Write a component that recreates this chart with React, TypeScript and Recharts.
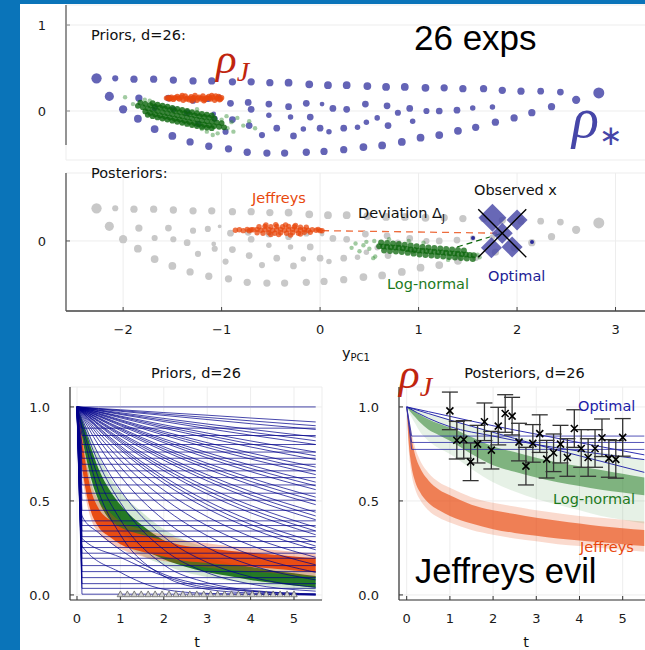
import React from 'react';
import {
  ScatterChart, ComposedChart, Scatter, Line, Area, XAxis, YAxis, ZAxis,
  CartesianGrid, ReferenceLine, ErrorBar,
} from 'recharts';

const SANS = '"DejaVu Sans", Verdana, sans-serif';
const ARIAL = '"Liberation Sans", Arial, sans-serif';
const SERIF = '"Liberation Serif", "DejaVu Serif", serif';

const BLUE_BG = '#0a74b9';
const DOT_BLUE = '#6464b6';
const GRAY = '#c8c8c8';
const ORANGE = '#e8470c';
const GREEN = '#0b650b';
const NAVY = '#00008b';
const RED = '#c0250e';

// ---------- top panels (PCA space) ----------
const X_TICKS = [-2, -1, 0, 1, 2, 3];

// rho* prior samples: [yPC1, yPC2, weight]
const rhoStarStrandA: number[][] = [
  [-2.27, 0.38, 13], [-2.08, 0.38, 4], [-1.89, 0.37, 6], [-1.69, 0.37, 6], [-1.49, 0.36, 6],
  [-1.29, 0.35, 6], [-1.10, 0.35, 6], [-0.89, 0.34, 6], [-0.70, 0.34, 6], [-0.51, 0.33, 6],
  [-0.32, 0.33, 7], [-0.11, 0.31, 7], [0.08, 0.30, 7], [0.27, 0.30, 7], [0.48, 0.29, 7],
  [0.67, 0.28, 7], [0.86, 0.28, 7], [1.07, 0.27, 7], [1.26, 0.27, 6], [1.45, 0.26, 6],
  [1.66, 0.26, 6], [1.85, 0.24, 6], [2.04, 0.23, 6], [2.24, 0.23, 5], [2.44, 0.22, 5],
  [2.83, 0.21, 15],
];
const rhoStarStrandB: number[][] = [
  [-2.14, 0.17, 10], [-2.0, 0.02, 8], [-1.85, -0.09, 7], [-1.68, -0.21, 7], [-1.50, -0.29, 7],
  [-1.32, -0.36, 6], [-1.13, -0.41, 6], [-0.93, -0.44, 6], [-0.74, -0.48, 6], [-0.54, -0.49, 6],
  [-0.36, -0.49, 6], [-0.14, -0.48, 6], [0.04, -0.47, 6], [0.24, -0.45, 6], [0.44, -0.42, 7],
  [0.63, -0.40, 7], [0.83, -0.36, 7], [1.02, -0.31, 7], [1.21, -0.28, 7], [1.40, -0.23, 7],
  [1.58, -0.19, 6], [1.78, -0.13, 6], [1.97, -0.08, 6], [2.15, -0.02, 6], [2.35, 0.05, 6],
  [2.60, 0.13, 8],
];
const rhoStarInner: number[][] = [
  [-1.84, 0.15, 6], [-1.54, 0.15, 5], [-1.68, 0.035, 4], [-1.49, 0.02, 4], [-1.29, 0.12, 4],
  [-1.14, 0.14, 4], [-1.02, 0.17, 1], [-1.35, -0.02, 5], [-1.08, -0.035, 2], [-1.07, -0.09, 4],
  [-1.24, -0.15, 4], [-0.89, -0.10, 5], [-0.96, -0.24, 4], [-0.72, -0.17, 5], [-0.91, 0.09, 5],
  [-0.73, 0.10, 5], [-0.70, 0.02, 5], [-0.52, 0.08, 5], [-0.59, -0.28, 4], [-0.44, -0.20, 5],
  [-0.52, -0.05, 3], [-0.32, 0.05, 5], [-0.30, -0.07, 3], [-0.14, 0.09, 5], [-0.10, -0.07, 5],
  [0.02, 0.08, 2], [0.13, 0.03, 5], [0.27, 0.02, 5], [0.46, 0.08, 5], [0.68, 0.06, 5],
  [0.79, -0.02, 4], [0.91, 0.03, 5], [1.08, 0.0, 4], [1.21, 0.0, 5], [1.39, 0.01, 5],
  [1.55, 0.035, 3], [1.75, 0.047, 3], [-0.27, -0.29, 5], [-0.17, -0.21, 3], [0.0, -0.20, 5],
  [0.09, -0.24, 3], [0.24, -0.20, 5], [0.38, -0.19, 3], [0.47, -0.13, 3], [0.58, -0.08, 3],
  [0.69, -0.17, 5], [0.94, -0.12, 3],
];

// Jeffreys prior samples
const priorJeffreysCloud: number[][] = [
  [-1.56, 0.150], [-1.54, 0.155], [-1.53, 0.140], [-1.51, 0.160], [-1.49, 0.135], [-1.47, 0.155],
  [-1.45, 0.170], [-1.43, 0.140], [-1.41, 0.160], [-1.39, 0.125], [-1.37, 0.175], [-1.35, 0.150],
  [-1.33, 0.130], [-1.31, 0.165], [-1.29, 0.145], [-1.27, 0.180], [-1.25, 0.125], [-1.23, 0.160],
  [-1.21, 0.140], [-1.19, 0.175], [-1.17, 0.130], [-1.15, 0.155], [-1.13, 0.170], [-1.11, 0.140],
  [-1.09, 0.160], [-1.07, 0.125], [-1.05, 0.150], [-1.03, 0.170], [-1.01, 0.140], [-1.00, 0.155],
  [-1.52, 0.145], [-1.44, 0.150], [-1.36, 0.140],
  [-1.28, 0.155], [-1.20, 0.150], [-1.12, 0.150], [-1.04, 0.145], [-1.40, 0.180], [-1.30, 0.120],
  [-1.18, 0.120], [-1.10, 0.180], [-1.24, 0.150], [-1.16, 0.145], [-1.32, 0.150], [-1.48, 0.150],
  [-1.02, 0.130], [-1.06, 0.175],
];
// log-normal prior samples
const priorLogNormalCloud: number[][] = [
  [-1.85, 0.06], [-1.80, 0.045], [-1.75, 0.03], [-1.70, 0.015], [-1.65, 0.0], [-1.60, -0.013],
  [-1.55, -0.025], [-1.50, -0.038], [-1.45, -0.05], [-1.40, -0.063], [-1.35, -0.075], [-1.30, -0.088],
  [-1.25, -0.10], [-1.20, -0.11], [-1.15, -0.118], [-1.10, -0.126], [-1.05, -0.134], [-1.00, -0.14],
  [-1.825, 0.098], [-1.775, 0.083], [-1.725, 0.068], [-1.675, 0.052], [-1.625, 0.039], [-1.575, 0.026],
  [-1.525, 0.014], [-1.475, 0.0], [-1.425, -0.012], [-1.375, -0.024], [-1.325, -0.037], [-1.275, -0.05],
  [-1.225, -0.06], [-1.175, -0.07], [-1.125, -0.077], [-1.075, -0.085],
  [-1.775, -0.005], [-1.725, -0.022], [-1.675, -0.038], [-1.625, -0.052], [-1.575, -0.064], [-1.525, -0.077],
  [-1.475, -0.09], [-1.425, -0.10], [-1.375, -0.114], [-1.325, -0.127], [-1.275, -0.14], [-1.225, -0.15],
  [-1.175, -0.16], [-1.125, -0.168], [-1.075, -0.175], [-1.025, -0.183], [-0.975, -0.19],
  [-1.70, 0.09], [-1.65, 0.075], [-1.60, 0.062], [-1.55, 0.05], [-1.50, 0.037], [-1.45, 0.025],
  [-1.40, 0.012], [-1.35, 0.0], [-1.30, -0.013], [-1.25, -0.025], [-1.20, -0.035], [-1.15, -0.043],
  [-1.10, -0.051],
  [-1.75, -0.045], [-1.70, -0.06], [-1.65, -0.075], [-1.60, -0.088], [-1.55, -0.10], [-1.50, -0.113],
  [-1.45, -0.125], [-1.40, -0.138], [-1.35, -0.15], [-1.30, -0.163], [-1.25, -0.175], [-1.20, -0.185],
  [-1.15, -0.193], [-1.10, -0.20],
];
const priorLogNormalOutliers: number[][] = [
  [-1.98, 0.16], [-1.90, 0.08], [-1.78, 0.13], [-1.73, 0.12], [-1.25, 0.02], [-1.0, -0.10],
  [-0.84, -0.08], [-0.78, -0.17], [-0.66, -0.20], [-0.94, -0.20], [-1.15, -0.24], [-1.09, -0.28],
  [-1.04, -0.26], [-0.90, -0.13], [-0.95, -0.06], [-0.72, -0.12], [-1.20, -0.21], [-0.88, -0.24],
];

// posterior samples
const postJeffreysCloud: number[][] = [
  [-0.86, 0.125], [-0.82, 0.13], [-0.78, 0.12], [-0.74, 0.135], [-0.72, 0.118], [-0.70, 0.13],
  [-0.68, 0.13], [-0.64, 0.135], [-0.60, 0.125], [-0.56, 0.13], [-0.52, 0.135], [-0.48, 0.125],
  [-0.44, 0.13], [-0.40, 0.135], [-0.36, 0.125], [-0.32, 0.13], [-0.28, 0.135], [-0.24, 0.125],
  [-0.20, 0.13], [-0.16, 0.13], [-0.12, 0.125], [-0.08, 0.13],
  [-0.62, 0.165], [-0.56, 0.17], [-0.50, 0.165], [-0.44, 0.17], [-0.38, 0.165], [-0.32, 0.17],
  [-0.26, 0.165], [-0.20, 0.16], [-0.14, 0.16],
  [-0.64, 0.095], [-0.58, 0.09], [-0.52, 0.095], [-0.46, 0.09], [-0.40, 0.095], [-0.34, 0.09],
  [-0.28, 0.095], [-0.22, 0.09], [-0.16, 0.1], [-0.10, 0.1],
  [-0.04, 0.125], [0.0, 0.12], [-0.02, 0.135], [0.02, 0.118],
  [-0.45, 0.19], [-0.35, 0.185], [-0.30, 0.07], [-0.42, 0.075], [-0.55, 0.185], [-0.25, 0.18],
  [-0.50, 0.075], [-0.20, 0.08],
];
const postLogNormalCloud: number[][] = [
  [0.60, -0.06], [0.64, -0.064], [0.68, -0.068], [0.72, -0.072], [0.76, -0.076], [0.80, -0.08],
  [0.84, -0.086], [0.88, -0.092], [0.92, -0.098], [0.96, -0.104], [1.00, -0.11], [1.04, -0.114],
  [1.08, -0.118], [1.12, -0.122], [1.16, -0.126], [1.20, -0.13], [1.24, -0.134], [1.28, -0.138],
  [1.32, -0.142], [1.36, -0.146], [1.40, -0.15], [1.44, -0.154], [1.48, -0.158], [1.52, -0.162],
  [1.56, -0.166],
  [0.62, -0.017], [0.68, -0.023], [0.74, -0.029], [0.80, -0.035], [0.86, -0.044], [0.92, -0.053],
  [0.98, -0.062], [1.04, -0.069], [1.10, -0.075], [1.16, -0.081], [1.22, -0.087], [1.28, -0.093],
  [1.34, -0.099], [1.40, -0.105], [1.46, -0.111],
  [0.65, -0.11], [0.71, -0.116], [0.77, -0.122], [0.83, -0.129], [0.89, -0.138], [0.95, -0.147],
  [1.01, -0.156], [1.07, -0.162], [1.13, -0.168], [1.19, -0.174], [1.25, -0.18], [1.31, -0.186],
  [1.37, -0.192], [1.43, -0.198], [1.49, -0.204], [1.55, -0.21],
];
const postLogNormalOutliers: number[][] = [
  [0.32, -0.08], [0.44, -0.05], [0.47, -0.01], [0.54, -0.20], [0.56, -0.18], [0.40, -0.12],
  [0.50, -0.09], [0.36, -0.03], [1.60, -0.16], [1.62, -0.19], [0.90, 0.0], [1.05, -0.02],
  [0.70, 0.02], [0.55, 0.0], [1.30, -0.22],
];

const observedPoint = [{ x: 1.85, y: 0.09 }];
const optimalBig = [{ x: 1.75, y: 0.27 }];
const optimalMid = [{ x: 2.0, y: 0.245 }, { x: 1.74, y: -0.08 }, { x: 1.95, y: -0.07 }, { x: 1.85, y: 0.09 }];
const optimalTiny = [{ x: 1.553, y: 0.035 }, { x: 2.152, y: -0.012 }];
const jeffreysDeviation = [{ x: 0.02, y: 0.12 }, { x: 1.85, y: 0.09 }];
const logNormalDeviation = [{ x: 1.39, y: -0.07 }, { x: 1.85, y: 0.09 }];
const PCA_X_DOMAIN = [-2.58, 3.35];
const PRIOR_SPINE = [{ x: -2.58, y: -0.395 }, { x: -2.58, y: 1.233 }];

const toXYW = (a: number[][]) => a.map(([x, y, w]) => ({ x, y, w }));
const toXY = (a: number[][]) => a.map(([x, y]) => ({ x, y }));
const rhoStarPoints = toXYW([...rhoStarStrandA, ...rhoStarStrandB, ...rhoStarInner]);

// ---------- bottom panels (curves in t) ----------
const T_TICKS = [0, 1, 2, 3, 4, 5];
const Y_TICKS = [0, 0.5, 1];
const T7 = [0, 0.5, 1, 2, 3, 4, 5.5];
const priorStarCurves: number[][] = [
  [1, 1, 1, 1, 1, 1, 1],
  [1, 0.992, 0.985, 0.970, 0.956, 0.941, 0.92],
  [1, 0.990, 0.981, 0.962, 0.944, 0.926, 0.90],
  [1, 0.988, 0.977, 0.955, 0.933, 0.911, 0.88],
  [1, 0.984, 0.969, 0.939, 0.909, 0.881, 0.84],
  [1, 0.982, 0.964, 0.930, 0.897, 0.866, 0.82],
  [1, 0.980, 0.960, 0.922, 0.885, 0.850, 0.80],
  [1, 0.975, 0.951, 0.905, 0.861, 0.819, 0.76],
  [1, 0.973, 0.947, 0.896, 0.849, 0.803, 0.74],
  [1, 0.971, 0.942, 0.887, 0.836, 0.787, 0.72],
  [1, 0.966, 0.932, 0.869, 0.810, 0.755, 0.68],
  [1, 0.963, 0.927, 0.860, 0.797, 0.739, 0.66],
  [1, 0.960, 0.922, 0.850, 0.784, 0.723, 0.64],
  [1, 0.955, 0.911, 0.830, 0.757, 0.690, 0.60],
  [1, 0.952, 0.906, 0.820, 0.743, 0.673, 0.58],
  [1, 0.949, 0.900, 0.810, 0.729, 0.656, 0.56],
  [1, 0.942, 0.888, 0.788, 0.700, 0.622, 0.52],
  [1, 0.939, 0.882, 0.777, 0.685, 0.604, 0.50],
  [1, 0.936, 0.875, 0.766, 0.670, 0.586, 0.48],
  [1, 0.928, 0.861, 0.742, 0.639, 0.550, 0.44],
  [1, 0.924, 0.854, 0.730, 0.623, 0.532, 0.42],
  [1, 0.920, 0.846, 0.717, 0.607, 0.513, 0.40],
  [1, 0.911, 0.831, 0.690, 0.573, 0.476, 0.36],
  [1, 0.907, 0.822, 0.675, 0.555, 0.456, 0.34],
  [1, 0.902, 0.813, 0.661, 0.537, 0.437, 0.32],
  [1, 0.891, 0.793, 0.629, 0.499, 0.396, 0.28],
  [1, 0.885, 0.783, 0.613, 0.480, 0.375, 0.26],
  [1, 0.878, 0.772, 0.595, 0.459, 0.354, 0.24],
  [1, 0.864, 0.746, 0.557, 0.416, 0.310, 0.20],
  [1, 0.847, 0.717, 0.513, 0.368, 0.264, 0.16],
  [1, 0.825, 0.680, 0.463, 0.315, 0.214, 0.12],
  [1, 0.795, 0.632, 0.399, 0.252, 0.159, 0.08],
  [1, 0.746, 0.557, 0.310, 0.173, 0.096, 0.04],
  [1, 0.701, 0.491, 0.241, 0.118, 0.058, 0.02],
  [1, 0.62, 0.40, 0.16, 0.065, 0.025, 0.005],
  [1, 0.55, 0.32, 0.10, 0.03, 0.01, 0.0],
];
const priorStarSteps = [
  0.887, 0.848, 0.80, 0.76, 0.727, 0.695, 0.66, 0.624, 0.585, 0.541, 0.504, 0.45, 0.394,
  0.369, 0.34, 0.31, 0.284, 0.252, 0.222, 0.195, 0.156, 0.124, 0.092, 0.06, 0.035, 0.004,
];
const priorStarKinks: number[][][] = [
  [[0, 1], [0.115, 0.42], [0.5, 0.33], [1, 0.24], [2, 0.11], [3, 0.05], [4, 0.02], [5.5, 0.0]],
  [[0, 1], [0.115, 0.30], [1, 0.20], [2, 0.10], [3, 0.04], [5.5, 0.005]],
  [[0, 1], [0.115, 0.26], [1, 0.12], [2, 0.03], [3, 0.008], [5.5, 0.0]],
];

const TB = [0, 0.05, 0.1, 0.2, 0.3, 0.5, 0.75, 1, 1.5, 2, 2.5, 3, 3.5, 4, 4.5, 5, 5.5];
const priorJLo = [1, 0.84, 0.72, 0.56, 0.46, 0.36, 0.31, 0.27, 0.23, 0.205, 0.18, 0.17, 0.16, 0.15, 0.14, 0.13, 0.12];
const priorJHi = [1, 0.93, 0.86, 0.70, 0.58, 0.46, 0.40, 0.36, 0.32, 0.29, 0.26, 0.25, 0.235, 0.225, 0.215, 0.205, 0.195];
const priorJOutLo = [1, 0.80, 0.68, 0.52, 0.42, 0.33, 0.28, 0.245, 0.205, 0.18, 0.16, 0.145, 0.135, 0.125, 0.115, 0.105, 0.095];
const priorJOutHi = [1, 0.95, 0.89, 0.74, 0.62, 0.50, 0.44, 0.39, 0.35, 0.32, 0.29, 0.275, 0.26, 0.25, 0.24, 0.23, 0.22];
const priorLLo = [1, 0.93, 0.86, 0.74, 0.64, 0.50, 0.40, 0.34, 0.25, 0.19, 0.15, 0.12, 0.10, 0.08, 0.065, 0.05, 0.04];
const priorLHi = [1, 0.97, 0.94, 0.87, 0.80, 0.67, 0.56, 0.48, 0.37, 0.29, 0.24, 0.20, 0.17, 0.15, 0.13, 0.115, 0.10];
const priorLOutLo = [1, 0.90, 0.82, 0.68, 0.58, 0.44, 0.35, 0.29, 0.21, 0.16, 0.12, 0.095, 0.075, 0.06, 0.045, 0.035, 0.025];
const priorLOutHi = [1, 0.985, 0.96, 0.91, 0.85, 0.74, 0.63, 0.55, 0.44, 0.35, 0.29, 0.25, 0.215, 0.19, 0.17, 0.15, 0.135];

const postLLo = [1, 0.985, 0.97, 0.945, 0.92, 0.88, 0.85, 0.82, 0.75, 0.69, 0.655, 0.625, 0.60, 0.58, 0.56, 0.545, 0.53];
const postLHi = [1, 0.995, 0.99, 0.975, 0.96, 0.935, 0.91, 0.89, 0.84, 0.79, 0.76, 0.73, 0.705, 0.685, 0.665, 0.645, 0.625];
const postLOutLo = [1, 0.975, 0.95, 0.91, 0.87, 0.82, 0.78, 0.75, 0.67, 0.60, 0.55, 0.51, 0.48, 0.45, 0.42, 0.40, 0.38];
const postLOutHi = [1, 1, 0.995, 0.99, 0.98, 0.965, 0.95, 0.935, 0.90, 0.87, 0.845, 0.82, 0.80, 0.78, 0.76, 0.74, 0.72];
const postJLo = [1, 0.80, 0.70, 0.60, 0.55, 0.49, 0.45, 0.42, 0.38, 0.35, 0.33, 0.315, 0.30, 0.29, 0.28, 0.27, 0.26];
const postJHi = [1, 0.92, 0.85, 0.74, 0.68, 0.61, 0.56, 0.53, 0.48, 0.45, 0.43, 0.41, 0.395, 0.38, 0.365, 0.355, 0.345];
const postJOutLo = [1, 0.76, 0.66, 0.56, 0.51, 0.45, 0.41, 0.385, 0.345, 0.32, 0.30, 0.285, 0.27, 0.26, 0.25, 0.24, 0.23];
const postJOutHi = [1, 0.94, 0.88, 0.78, 0.72, 0.65, 0.60, 0.57, 0.52, 0.49, 0.47, 0.45, 0.435, 0.42, 0.41, 0.40, 0.39];

const optimalCurves: number[][] = [
  [1, 0.975, 0.95, 0.90, 0.855, 0.81, 0.745],
  [1, 0.94, 0.895, 0.845, 0.80, 0.765, 0.72],
  [1, 0.965, 0.93, 0.865, 0.80, 0.74, 0.652],
];
const optimalSteps = [0.845, 0.811, 0.774];

const obsT = [1.0, 1.16, 1.32, 1.48, 1.64, 1.8, 1.96, 2.12, 2.28, 2.44, 2.6, 2.76, 2.92,
  3.08, 3.24, 3.4, 3.56, 3.72, 3.88, 4.04, 4.2, 4.36, 4.52, 4.68, 4.84, 5.0];
const obsY = [0.979, 0.823, 0.827, 0.708, 0.802, 0.921, 0.770, 0.898, 0.965, 0.951, 0.813, 0.685, 0.806,
  0.858, 0.722, 0.756, 0.802, 0.731, 0.885, 0.779, 0.731, 0.779, 0.836, 0.726, 0.721, 0.838];
const obsErr = [0.1, 0.1, 0.1, 0.1, 0.1, 0.1, 0.1, 0.1, 0.1, 0.1, 0.1, 0.1, 0.1,
  0.1, 0.1, 0.1, 0.1, 0.1, 0.1, 0.1, 0.1, 0.1, 0.1, 0.1, 0.1, 0.1];

// built tables
const curveData = (vals: number[]) => T7.map((t, i) => ({ t, y: vals[i] }));
const stepData = (L: number) => [{ t: 0, y: 1 }, { t: 0.115, y: L }, { t: 5.5, y: L }];
const priorBands = TB.map((t, i) => ({
  t, jLo: priorJLo[i], jHi: priorJHi[i], joLo: priorJOutLo[i], joHi: priorJOutHi[i],
  lLo: priorLLo[i], lHi: priorLHi[i], loLo: priorLOutLo[i], loHi: priorLOutHi[i],
}));
const postBands = TB.map((t, i) => ({
  t, jLo: postJLo[i], jHi: postJHi[i], joLo: postJOutLo[i], joHi: postJOutHi[i],
  lLo: postLLo[i], lHi: postLHi[i], loLo: postLOutLo[i], loHi: postLOutHi[i],
}));
const obsData = obsT.map((t, i) => ({ t, y: obsY[i], err: obsErr[i] }));
const designData = obsT.map((t) => ({ t, y: 0 }));

// ---------- helpers ----------
const TICK = { fontSize: 13, fill: '#1a1a1a', fontFamily: SANS };
const fmtMinus = (v: number) => String(v).replace('-', '\u2212');
const dot = (r: number, fill: string, op: number) => (p: any) =>
  <circle cx={p.cx} cy={p.cy} r={r} fill={fill} fillOpacity={op} />;
const diamond = (h: number) => (p: any) =>
  <polygon points={`${p.cx},${p.cy - h} ${p.cx + h},${p.cy} ${p.cx},${p.cy + h} ${p.cx - h},${p.cy}`}
    fill="#4747a6" fillOpacity={0.82} />;
const bigCross = (p: any) => (
  <g stroke="#000" strokeWidth={1.4}>
    <line x1={p.cx - 24} y1={p.cy - 24} x2={p.cx + 24} y2={p.cy + 24} />
    <line x1={p.cx - 24} y1={p.cy + 24} x2={p.cx + 24} y2={p.cy - 24} />
  </g>
);
const smallCross = (p: any) => (
  <g stroke="#000" strokeWidth={1.6}>
    <line x1={p.cx - 3.5} y1={p.cy - 3.5} x2={p.cx + 3.5} y2={p.cy + 3.5} />
    <line x1={p.cx - 3.5} y1={p.cy + 3.5} x2={p.cx + 3.5} y2={p.cy - 3.5} />
  </g>
);
const triangle = (p: any) => (
  <polygon points={`${p.cx},${p.cy - 4} ${p.cx - 3.2},${p.cy + 1.8} ${p.cx + 3.2},${p.cy + 1.8}`}
    fill="#d0d0d0" stroke="#666" strokeWidth={0.8} />
);
const lineProps = { dot: false, activeDot: false, isAnimationActive: false, strokeWidth: 1 } as const;

const abs = (left: number, top: number): React.CSSProperties => ({ position: 'absolute', left, top });

function PriorsPCA() {
  return (
    <div style={abs(0, 0)}>
      <ScatterChart width={660} height={165} margin={{ top: 5, right: 10, bottom: 5, left: 20 }}>
        <CartesianGrid stroke="#ededed" />
        <XAxis type="number" dataKey="x" domain={PCA_X_DOMAIN} ticks={X_TICKS} allowDataOverflow
          height={0} tick={false} axisLine={false} tickLine={false} />
        <YAxis type="number" dataKey="y" domain={[-0.57, 1.233]} ticks={[0, 1]} allowDataOverflow width={46}
          axisLine={false} tickLine={{ stroke: '#8a8a8a' }}
          tickSize={-4} tickMargin={24} tick={TICK} />
        <ZAxis zAxisId="w" dataKey="w" range={[6, 95]} />
        <ReferenceLine segment={PRIOR_SPINE} stroke="#8a8a8a" strokeWidth={1.8} />
        <Scatter data={rhoStarPoints} zAxisId="w" fill={DOT_BLUE} isAnimationActive={false} />
        <Scatter data={toXY(priorLogNormalOutliers)} shape={dot(2.2, '#2e8b2e', 0.45)} isAnimationActive={false} />
        <Scatter data={toXY(priorLogNormalCloud)} shape={dot(2.9, GREEN, 0.8)} isAnimationActive={false} />
        <Scatter data={toXY(priorJeffreysCloud)} shape={dot(2.7, ORANGE, 0.8)} isAnimationActive={false} />
      </ScatterChart>
    </div>
  );
}

function PosteriorsPCA() {
  return (
    <div style={abs(0, 160)}>
      <ScatterChart width={660} height={210} margin={{ top: 13, right: 10, bottom: 0, left: 20 }}>
        <CartesianGrid stroke="#ededed" />
        <XAxis type="number" dataKey="x" domain={PCA_X_DOMAIN} ticks={X_TICKS} allowDataOverflow height={59}
          axisLine={{ stroke: '#444', strokeWidth: 1.3 }} tickLine={{ stroke: '#444' }}
          tickSize={-4} tickMargin={18} tick={TICK} tickFormatter={fmtMinus} />
        <YAxis type="number" dataKey="y" domain={[-0.814, 0.79]} ticks={[0]} allowDataOverflow width={46}
          axisLine={{ stroke: '#555', strokeWidth: 1.3 }} tickLine={{ stroke: '#555' }}
          tickSize={-4} tickMargin={24} tick={TICK} />
        <ZAxis zAxisId="w" dataKey="w" range={[6, 95]} />
        <Scatter data={rhoStarPoints} zAxisId="w" fill={GRAY} isAnimationActive={false} />
        <Scatter data={toXY(postJeffreysCloud)} shape={dot(2.7, ORANGE, 0.75)} isAnimationActive={false} />
        <Scatter data={toXY(postLogNormalOutliers)} shape={dot(2.2, '#2e8b2e', 0.45)} isAnimationActive={false} />
        <Scatter data={toXY(postLogNormalCloud)} shape={dot(3, GREEN, 0.75)} isAnimationActive={false} />
        <ReferenceLine segment={jeffreysDeviation} stroke={ORANGE} strokeOpacity={0.8} strokeWidth={1.3} strokeDasharray="7 5" />
        <ReferenceLine segment={logNormalDeviation} stroke={GREEN} strokeWidth={1.2} strokeDasharray="6 4" />
        <Scatter data={optimalBig} shape={diamond(14)} isAnimationActive={false} />
        <Scatter data={optimalMid} shape={diamond(10.5)} isAnimationActive={false} />
        <Scatter data={optimalTiny} shape={dot(2, '#2a2a9a', 1)} isAnimationActive={false} />
        <Scatter data={observedPoint} shape={bigCross} isAnimationActive={false} />
      </ScatterChart>
    </div>
  );
}

function PriorCurves() {
  return (
    <div style={abs(20, 350)}>
      <ComposedChart width={320} height={300} data={priorBands} margin={{ top: 37, right: 18, bottom: 0, left: 6 }}>
        <CartesianGrid stroke="#ededed" />
        <XAxis type="number" dataKey="t" domain={[-0.161, 5.645]} ticks={T_TICKS} allowDataOverflow height={50}
          axisLine={{ stroke: '#333', strokeWidth: 1.2 }} tickLine={{ stroke: '#333' }}
          tickSize={-4} tickMargin={18} tick={TICK} />
        <YAxis type="number" domain={[-0.027, 1.106]} ticks={Y_TICKS} allowDataOverflow width={44}
          axisLine={{ stroke: '#333', strokeWidth: 1.2 }} tickLine={{ stroke: '#333' }}
          tickSize={-4} tickMargin={24} tick={TICK} tickFormatter={(v: number) => v.toFixed(1)} />
        {priorStarCurves.map((c, i) => (
          <Line key={'c' + i} data={curveData(c)} dataKey="y" type="monotone" stroke={NAVY} strokeOpacity={0.72} {...lineProps} />
        ))}
        {priorStarSteps.map((L, i) => (
          <Line key={'s' + i} data={stepData(L)} dataKey="y" type="linear" stroke={NAVY} strokeOpacity={0.72} {...lineProps} />
        ))}
        {priorStarKinks.map((k, i) => (
          <Line key={'k' + i} data={k.map(([t, y]) => ({ t, y }))} dataKey="y" type="monotone" stroke={NAVY} strokeOpacity={0.72} {...lineProps} />
        ))}
        <Area dataKey={(r: any) => [r.loLo, r.loHi]} type="monotone" stroke="none" fill="#3c963c" fillOpacity={0.22} isAnimationActive={false} />
        <Area dataKey={(r: any) => [r.lLo, r.lHi]} type="monotone" stroke="none" fill="#0c6a0c" fillOpacity={0.88} isAnimationActive={false} />
        <Area dataKey={(r: any) => [r.joLo, r.joHi]} type="monotone" stroke="none" fill={ORANGE} fillOpacity={0.3} isAnimationActive={false} />
        <Area dataKey={(r: any) => [r.jLo, r.jHi]} type="monotone" stroke="none" fill={ORANGE} fillOpacity={0.95} isAnimationActive={false} />
        <Scatter data={designData} dataKey="y" shape={triangle} isAnimationActive={false} />
      </ComposedChart>
    </div>
  );
}

function PosteriorCurves() {
  return (
    <div style={abs(340, 350)}>
      <ComposedChart width={320} height={300} data={postBands} margin={{ top: 37, right: 10, bottom: 0, left: 15 }}>
        <CartesianGrid stroke="#ededed" />
        <XAxis type="number" dataKey="t" domain={[-0.178, 5.632]} ticks={T_TICKS} allowDataOverflow height={50}
          axisLine={{ stroke: '#333', strokeWidth: 1.2 }} tickLine={{ stroke: '#333' }}
          tickSize={-4} tickMargin={18} tick={TICK} />
        <YAxis type="number" domain={[-0.027, 1.106]} ticks={Y_TICKS} allowDataOverflow width={44}
          axisLine={{ stroke: '#333', strokeWidth: 1.2 }} tickLine={{ stroke: '#333' }}
          tickSize={-4} tickMargin={24} tick={TICK} tickFormatter={(v: number) => v.toFixed(1)} />
        <Area dataKey={(r: any) => [r.joLo, r.joHi]} type="monotone" stroke="none" fill={ORANGE} fillOpacity={0.2} isAnimationActive={false} />
        <Area dataKey={(r: any) => [r.jLo, r.jHi]} type="monotone" stroke="none" fill={ORANGE} fillOpacity={0.62} isAnimationActive={false} />
        <Area dataKey={(r: any) => [r.loLo, r.loHi]} type="monotone" stroke="none" fill="#3c963c" fillOpacity={0.13} isAnimationActive={false} />
        <Area dataKey={(r: any) => [r.lLo, r.lHi]} type="monotone" stroke="none" fill="#2a802a" fillOpacity={0.55} isAnimationActive={false} />
        {optimalCurves.map((c, i) => (
          <Line key={'o' + i} data={curveData(c)} dataKey="y" type="monotone" stroke="#1a1aa6" strokeOpacity={0.9} {...lineProps} />
        ))}
        {optimalSteps.map((L, i) => (
          <Line key={'os' + i} data={stepData(L)} dataKey="y" type="linear" stroke="#2a2aa6" strokeOpacity={0.8} {...lineProps} />
        ))}
        <Scatter data={obsData} dataKey="y" shape={smallCross} isAnimationActive={false}>
          <ErrorBar dataKey="err" direction="y" width={8} stroke="#333" strokeWidth={1.3} />
        </Scatter>
      </ComposedChart>
    </div>
  );
}

function Annotations() {
  return (
    <svg width={645} height={650} style={{ position: 'absolute', left: 0, top: 0, pointerEvents: 'none' }}
      fontFamily={SANS}>
      <text x={91} y={39.5} fontSize={14.5} fill="#111">Priors, d=26:</text>
      <text x={414} y={50} fontSize={35} fontFamily={ARIAL} fill="#000">26 exps</text>
      <text x={216} y={73} fontSize={43} fontFamily={SERIF} fontStyle="italic" fill={RED}>
        ρ<tspan fontSize={28} dy={7.5}>J</tspan>
      </text>
      <text x={572} y={137} fontSize={56} fontFamily={SERIF} fontStyle="italic" fill="#4646a8">
        ρ<tspan fontSize={28} dy={8} fontStyle="normal" fontFamily={SANS}>∗</tspan>
      </text>
      <text x={91} y={178} fontSize={14.5} fill="#111">Posteriors:</text>
      <text x={252} y={203} fontSize={14.5} fill={ORANGE}>Jeffreys</text>
      <text x={358} y={218} fontSize={14.5} fill="#111">Deviation Δ<tspan fontSize={10} dy={4}>J</tspan></text>
      <text x={474} y={195} fontSize={14.5} fill="#111">Observed x</text>
      <text x={488} y={281} fontSize={14.5} fill="#1c1c96">Optimal</text>
      <text x={387} y={289} fontSize={14.5} fill="#1d7a1d">Log-normal</text>
      <text x={342} y={357.5} fontSize={14.5} fill="#111">y<tspan fontSize={10} dy={3}>PC1</tspan></text>

      <text x={196} y={377.5} fontSize={14.5} textAnchor="middle" fill="#111">Priors, d=26</text>
      <text x={197} y={647} fontSize={14.5} textAnchor="middle" fill="#111">t</text>
      <text x={524.5} y={377.5} fontSize={14.5} textAnchor="middle" fill="#111">Posteriors, d=26</text>
      <text x={526} y={647} fontSize={14.5} textAnchor="middle" fill="#111">t</text>
      <text x={399} y={388} fontSize={43} fontFamily={SERIF} fontStyle="italic" fill={RED}>
        ρ<tspan fontSize={28} dy={7.5}>J</tspan>
      </text>
      <text x={578} y={411} fontSize={14.5} fill="#1c1ca8">Optimal</text>
      <text x={553} y={504} fontSize={14.5} fill="#1d7a1d">Log-normal</text>
      <text x={580} y={552} fontSize={14.5} fill={ORANGE}>Jeffreys</text>
      <text x={415} y={583} fontSize={34.5} fontFamily={ARIAL} fill="#000">Jeffreys evil</text>
    </svg>
  );
}

export default function App() {
  return (
    <div style={{ position: 'fixed', left: 0, top: 0, width: 645, height: 650, overflow: 'hidden', background: BLUE_BG }}>
      <div style={{ position: 'absolute', left: 20, top: 4, width: 625, height: 646, background: '#fff', overflow: 'hidden' }}>
        <div style={{ position: 'absolute', left: -20, top: -4, width: 680, height: 660 }}>
          <PriorsPCA />
          <PosteriorsPCA />
          <PriorCurves />
          <PosteriorCurves />
          <Annotations />
        </div>
      </div>
    </div>
  );
}
